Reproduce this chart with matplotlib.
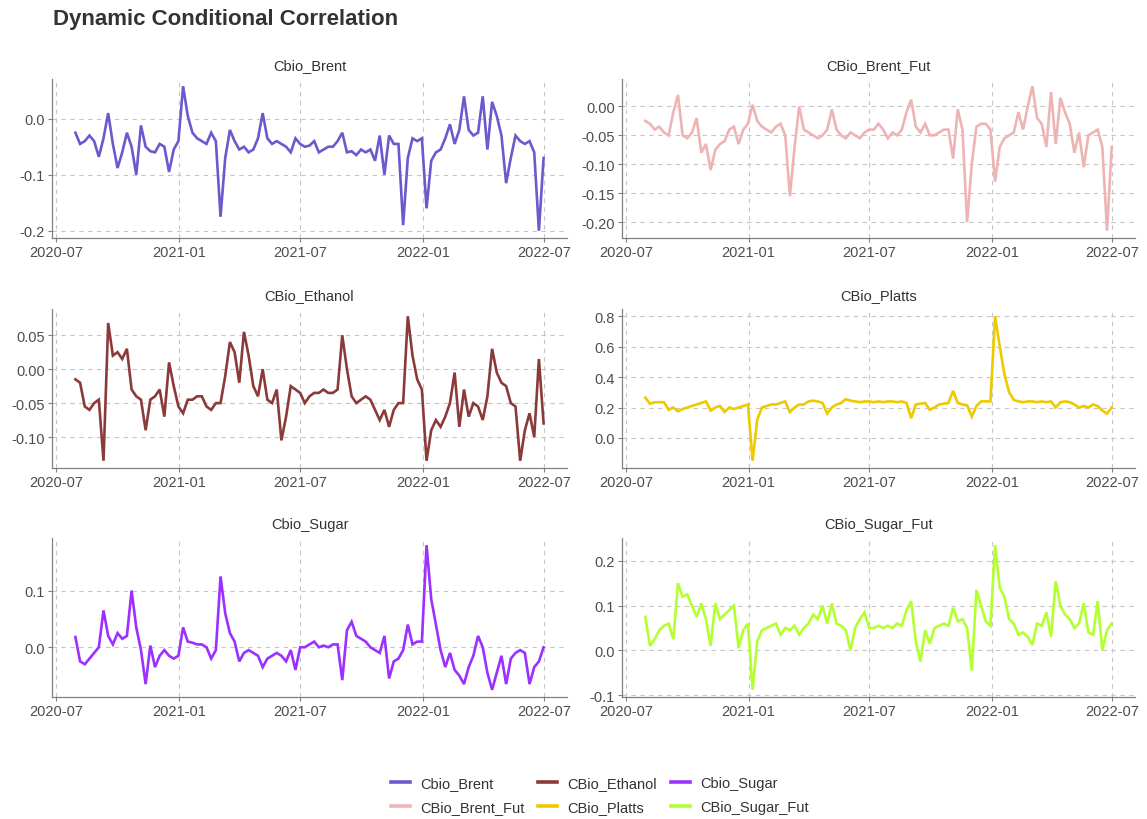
"""
Dynamic Conditional Correlation: six facets, one per CBio pair
"""

import pandas as pd
import matplotlib
matplotlib.use('Agg')
import matplotlib.pyplot as plt
import matplotlib.dates as mdates
from matplotlib.lines import Line2D
from matplotlib.ticker import MultipleLocator, FuncFormatter

plt.rcParams['font.family'] = ['Liberation Sans', 'DejaVu Sans']
plt.rcParams['axes.unicode_minus'] = False

dates = pd.date_range('2020-07-30', periods=101, freq='7D')

cbio_brent = [
    -0.025, -0.045, -0.04, -0.03, -0.04, -0.068, -0.035, 0.01, -0.045, -0.088,
    -0.06, -0.025, -0.05, -0.1, -0.012, -0.05, -0.058, -0.06, -0.045, -0.05,
    -0.095, -0.055, -0.04, 0.058, 0.005, -0.025, -0.035, -0.04, -0.045, -0.025,
    -0.04, -0.175, -0.07, -0.02, -0.04, -0.055, -0.05, -0.06, -0.055, -0.035,
    0.01, -0.035, -0.045, -0.04, -0.045, -0.05, -0.06, -0.035, -0.045, -0.05,
    -0.048, -0.04, -0.06, -0.055, -0.05, -0.05, -0.04, -0.025, -0.06, -0.058,
    -0.065, -0.055, -0.06, -0.055, -0.075, -0.03, -0.1, -0.03, -0.045, -0.045,
    -0.19, -0.07, -0.035, -0.04, -0.035, -0.16, -0.075, -0.06, -0.055, -0.035,
    -0.01, -0.045, -0.02, 0.04, -0.02, -0.03, -0.025, 0.04, -0.055, 0.03,
    0.005, -0.03, -0.115, -0.07, -0.03, -0.04, -0.045, -0.04, -0.06, -0.2,
    -0.07]

cbio_brent_fut = [
    -0.025, -0.03, -0.04, -0.035, -0.045, -0.05, -0.01, 0.02, -0.05, -0.055,
    -0.045, -0.02, -0.08, -0.065, -0.11, -0.075, -0.065, -0.06, -0.04, -0.035,
    -0.065, -0.04, -0.03, 0.003, -0.025, -0.035, -0.04, -0.045, -0.035, -0.03,
    -0.05, -0.155, -0.07, 0.0, -0.04, -0.045, -0.05, -0.055, -0.05, -0.04,
    -0.005, -0.04, -0.05, -0.055, -0.045, -0.05, -0.055, -0.045, -0.04, -0.04,
    -0.03, -0.04, -0.055, -0.045, -0.05, -0.04, -0.01, 0.012, -0.035, -0.045,
    -0.03, -0.05, -0.05, -0.045, -0.04, -0.04, -0.09, -0.005, -0.04, -0.2,
    -0.1, -0.035, -0.03, -0.03, -0.04, -0.13, -0.07, -0.055, -0.05, -0.045,
    -0.01, -0.04, 0.0, 0.035, -0.02, -0.03, -0.07, 0.025, -0.065, 0.015,
    -0.01, -0.03, -0.08, -0.045, -0.105, -0.05, -0.045, -0.04, -0.07, -0.215,
    -0.07]

cbio_ethanol = [
    -0.015, -0.02, -0.055, -0.06, -0.05, -0.045, -0.135, 0.068, 0.02, 0.025,
    0.015, 0.03, -0.03, -0.04, -0.045, -0.09, -0.045, -0.04, -0.03, -0.07,
    0.01, -0.025, -0.055, -0.065, -0.045, -0.045, -0.04, -0.04, -0.055, -0.06,
    -0.05, -0.05, -0.01, 0.04, 0.025, -0.02, 0.055, 0.02, -0.025, -0.04,
    0.0, -0.045, -0.05, -0.03, -0.105, -0.07, -0.025, -0.03, -0.035, -0.05,
    -0.04, -0.035, -0.035, -0.03, -0.035, -0.035, -0.03, 0.05, 0.0, -0.04,
    -0.05, -0.045, -0.04, -0.045, -0.06, -0.075, -0.06, -0.085, -0.06, -0.05,
    -0.05, 0.078, 0.02, -0.015, -0.03, -0.135, -0.09, -0.075, -0.085, -0.07,
    -0.05, -0.005, -0.085, -0.03, -0.07, -0.05, -0.055, -0.075, -0.04, 0.03,
    -0.005, -0.02, -0.025, -0.05, -0.055, -0.135, -0.09, -0.065, -0.1, 0.015,
    -0.08]

cbio_platts = [
    0.265, 0.225, 0.235, 0.235, 0.235, 0.185, 0.2, 0.175, 0.19, 0.2,
    0.21, 0.22, 0.23, 0.24, 0.18, 0.2, 0.21, 0.17, 0.2, 0.19,
    0.2, 0.21, 0.22, -0.15, 0.12, 0.2, 0.21, 0.22, 0.22, 0.23,
    0.24, 0.17, 0.2, 0.22, 0.22, 0.24, 0.245, 0.24, 0.23, 0.16,
    0.2, 0.22, 0.23, 0.255, 0.245, 0.24, 0.235, 0.24, 0.24, 0.235,
    0.24, 0.235, 0.24, 0.24, 0.235, 0.24, 0.23, 0.13, 0.22, 0.225,
    0.23, 0.185, 0.2, 0.22, 0.225, 0.23, 0.31, 0.23, 0.22, 0.215,
    0.14, 0.21, 0.24, 0.24, 0.24, 0.8, 0.6, 0.42, 0.3, 0.25,
    0.24, 0.235, 0.24, 0.24, 0.235, 0.24, 0.235, 0.24, 0.2, 0.235,
    0.24, 0.235, 0.22, 0.2, 0.21, 0.2, 0.22, 0.21, 0.18, 0.16,
    0.2]

cbio_sugar = [
    0.018, -0.025, -0.03, -0.02, -0.01, 0.0, 0.065, 0.02, 0.005, 0.025,
    0.015, 0.02, 0.1, 0.035, -0.005, -0.065, 0.003, -0.035, -0.015, -0.005,
    -0.015, -0.02, -0.015, 0.035, 0.01, 0.008, 0.005, 0.005, 0.0, -0.02,
    -0.005, 0.125, 0.06, 0.025, 0.01, -0.025, -0.01, -0.005, -0.01, -0.015,
    -0.035, -0.02, -0.015, -0.01, -0.015, -0.025, -0.005, -0.04, 0.0, 0.0,
    0.005, 0.01, 0.0, 0.003, 0.0, 0.005, 0.005, -0.058, 0.03, 0.045,
    0.02, 0.015, 0.01, 0.0, -0.005, -0.01, 0.02, -0.055, -0.025, -0.02,
    -0.005, 0.04, 0.005, 0.01, 0.01, 0.18, 0.085, 0.04, -0.005, -0.035,
    -0.01, -0.04, -0.05, -0.065, -0.035, -0.015, 0.02, 0.0, -0.045, -0.075,
    -0.045, -0.015, -0.065, -0.02, -0.01, -0.005, -0.01, -0.065, -0.035, -0.025,
    0.0]

cbio_sugar_fut = [
    0.075, 0.01, 0.025, 0.045, 0.055, 0.06, 0.025, 0.15, 0.12, 0.125,
    0.1, 0.075, 0.105, 0.07, 0.01, 0.105, 0.07, 0.08, 0.09, 0.1,
    0.005, 0.045, 0.06, -0.088, 0.02, 0.045, 0.05, 0.055, 0.06, 0.035,
    0.05, 0.045, 0.055, 0.035, 0.05, 0.06, 0.08, 0.07, 0.1, 0.06,
    0.105, 0.06, 0.055, 0.045, 0.0, 0.05, 0.07, 0.085, 0.05, 0.05,
    0.055, 0.05, 0.055, 0.05, 0.06, 0.055, 0.09, 0.11, 0.02, -0.025,
    0.045, 0.015, 0.05, 0.055, 0.06, 0.055, 0.095, 0.065, 0.07, 0.05,
    -0.045, 0.135, 0.1, 0.065, 0.055, 0.235, 0.14, 0.12, 0.07, 0.06,
    0.035, 0.04, 0.03, 0.012, 0.06, 0.055, 0.085, 0.03, 0.155, 0.1,
    0.08, 0.07, 0.05, 0.06, 0.105, 0.04, 0.035, 0.11, 0.0, 0.045,
    0.06]

series_names = ['Cbio_Brent', 'CBio_Brent_Fut', 'CBio_Ethanol',
                'CBio_Platts', 'Cbio_Sugar', 'CBio_Sugar_Fut']
series_values = [cbio_brent, cbio_brent_fut, cbio_ethanol,
                 cbio_platts, cbio_sugar, cbio_sugar_fut]


def make_formatter(digits):
    """tick labels with a fixed number of decimals, no '-0.00'"""
    return FuncFormatter(lambda v, p: f'{round(v, 6) + 0:.{digits}f}')


def style_panel(ax, step, digits):
    """ggplot-like look: left/bottom axis lines and dashed grid"""
    for side in ['top', 'right']:
        ax.spines[side].set_visible(False)
    for side in ['left', 'bottom']:
        ax.spines[side].set_color('#808080')
        ax.spines[side].set_linewidth(0.9)

    ax.yaxis.set_major_locator(MultipleLocator(step))
    ax.yaxis.set_major_formatter(make_formatter(digits))
    ax.xaxis.set_major_locator(mdates.MonthLocator(bymonth=[1, 7]))
    ax.xaxis.set_major_formatter(mdates.DateFormatter('%Y-%m'))

    ax.grid(True, color='#c6c6c6', linestyle=(0, (4, 4)), linewidth=0.8)
    ax.set_axisbelow(True)
    ax.tick_params(length=3, width=0.8, color='#808080',
                   labelsize=10.5, labelcolor='#4d4d4d', pad=2)


def main():
    fig = plt.figure(figsize=(11.47, 8.2), dpi=100)

    colors = ['#6a5acd', '#eeb4b4', '#8b3a3a', '#eec900', '#9b30ff', '#b3ff2f']
    steps = [0.1, 0.05, 0.05, 0.2, 0.1, 0.1]
    digits = [1, 2, 2, 1, 1, 1]

    # panel rectangles in figure fractions (pixels / figure size)
    W, H = 1147.0, 820.0
    col_left = [52 / W, 622 / W]
    col_width = [515 / W, 513 / W]
    row_bottom = [(H - 239) / H, (H - 469) / H, (H - 698) / H]
    row_height = 159 / H

    handles = []
    for k, (name, vals) in enumerate(zip(series_names, series_values)):
        r, c = divmod(k, 2)
        ax = fig.add_axes([col_left[c], row_bottom[r], col_width[c], row_height])
        ax.plot(dates, vals, color=colors[k], linewidth=1.9,
                solid_joinstyle='miter')
        ax.margins(x=0.05, y=0.05)
        style_panel(ax, steps[k], digits[k])
        ax.set_title(name, fontsize=10.5, color='#333333', pad=7)
        handles.append(Line2D([], [], color=colors[k], linewidth=2.6))

    fig.text(53 / W, 1 - 20 / H, 'Dynamic Conditional Correlation',
             fontsize=16, fontweight='bold', color='#333333',
             ha='left', va='center')

    fig.legend(handles, series_names, loc='center',
               bbox_to_anchor=(600 / W, 1 - 796 / H), ncol=3, frameon=False,
               fontsize=10.5, labelcolor='#333333', handlelength=1.3,
               handletextpad=0.7, columnspacing=0.95, labelspacing=0.7)

    fig.savefig('out.png', dpi=100)


if __name__ == '__main__':
    main()
